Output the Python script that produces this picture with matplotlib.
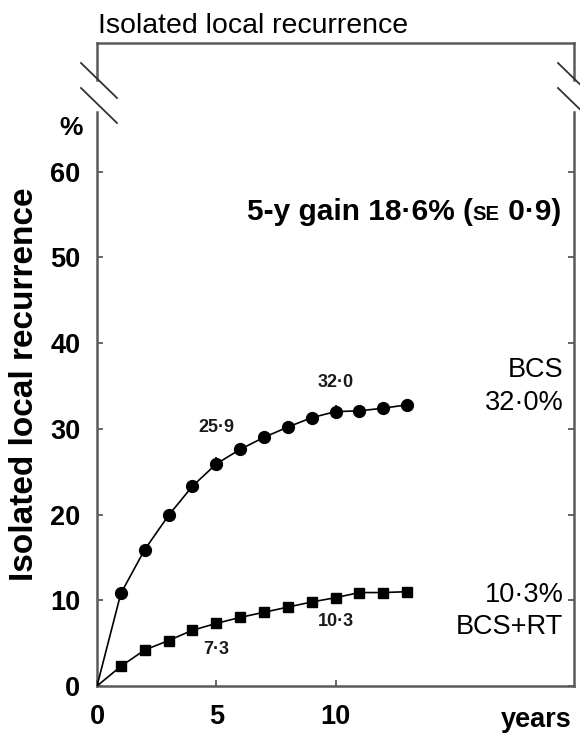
import matplotlib
matplotlib.use("Agg")
import matplotlib.pyplot as plt
from matplotlib.offsetbox import TextArea, HPacker, AnnotationBbox

plt.rcParams['font.family'] = ['Liberation Sans', 'DejaVu Sans']

# ---- data ----
years = [0, 1, 2, 3, 4, 5, 6, 7, 8, 9, 10, 11, 12, 13]
bcs = [0, 10.8, 15.9, 19.9, 23.3, 25.9, 27.6, 29.0, 30.2, 31.3, 32.0, 32.1, 32.4, 32.8]
bcs_rt = [0, 2.3, 4.2, 5.3, 6.5, 7.3, 8.0, 8.6, 9.2, 9.8, 10.3, 10.9, 10.9, 11.0]
err_years = [5, 10]
bcs_err = [0.8, 0.8]
bcs_rt_err = [0.6, 0.6]
bcs_point_labels = ["25·9", "32·0"]
bcs_rt_point_labels = ["7·3", "10·3"]
yticks = [0, 10, 20, 30, 40, 50, 60]
xticks = [0, 5, 10]

W, H = 580, 736
fig = plt.figure(figsize=(W / 100, H / 100), dpi=100)
ax = fig.add_axes([97 / W, (H - 686) / H, 477 / W, 643 / H])

spine_col = '#5a5a5a'
ax.set_xlim(0, 20)
ax.set_ylim(0, 75)

# data lines
ax.plot(years, bcs, color='black', lw=1.2, marker='o', ms=8.5,
        markevery=slice(1, None), zorder=3)
ax.plot(years, bcs_rt, color='black', lw=1.2, marker='s', ms=7.5,
        markevery=slice(1, None), zorder=3)
ax.errorbar(err_years, [bcs[years.index(y)] for y in err_years], yerr=bcs_err,
            fmt='none', ecolor='black', elinewidth=1.2, capsize=0, zorder=4)
ax.errorbar(err_years, [bcs_rt[years.index(y)] for y in err_years], yerr=bcs_rt_err,
            fmt='none', ecolor='black', elinewidth=1.2, capsize=0, zorder=4)

# point labels
lab_fs = 13
for y0, lab, dy in zip(err_years, bcs_point_labels, [4.3, 3.4]):
    ax.text(y0, bcs[years.index(y0)] + dy, lab, ha='center', va='center',
            fontsize=lab_fs, fontweight='bold', color='#1a1a1a')
for y0, lab, dy in zip(err_years, bcs_rt_point_labels, [-3.1, -2.8]):
    ax.text(y0, bcs_rt[years.index(y0)] + dy, lab, ha='center', va='center',
            fontsize=lab_fs, fontweight='bold', color='#1a1a1a')

# right-side labels
rfs = 19.5
ax.text(19.55, 36.9, "BCS", ha='right', va='center', fontsize=rfs)
ax.text(19.55, 33.0, "32·0%", ha='right', va='center', fontsize=rfs)
ax.text(19.55, 10.6, "10·3%", ha='right', va='center', fontsize=rfs)
ax.text(19.55, 6.9, "BCS+RT", ha='right', va='center', fontsize=rfs)

# gain text with small-caps SE
gfs = 21.5
fam = ['Liberation Sans', 'DejaVu Sans']
prop = dict(fontsize=gfs, fontweight='bold', family=fam)
t1 = TextArea("5-y gain 18·6% (", textprops=prop)
t2 = TextArea("SE", textprops=dict(fontsize=gfs * 0.68, fontweight='bold', family=fam))
t3 = TextArea(" 0·9)", textprops=prop)
pack = HPacker(children=[t1, t2, t3], align='baseline', pad=0, sep=0)
ab = AnnotationBbox(pack, (19.45, 55.3), xycoords='data', box_alignment=(1, 0.5),
                    frameon=False, pad=0)
ax.add_artist(ab)

# spines
for s in ['left', 'right', 'top', 'bottom']:
    ax.spines[s].set_color(spine_col)
    ax.spines[s].set_linewidth(1.8)
ax.spines['left'].set_bounds(0, 67.0)
ax.spines['right'].set_bounds(0, 67.0)
ytr = ax.get_yaxis_transform()
for xs in (0, 1):
    ax.plot([xs, xs], [70.7, 75], transform=ytr, color=spine_col, lw=1.8,
            clip_on=False, solid_capstyle='projecting')

# break marks (axes fraction, derived from pixel offsets)
def px2ax(dx, py):
    return dx / 477, (686 - py) / 643

for xs in (0, 1):
    for (y1, y2) in [(63, 98), (88, 123)]:
        xa, ya = px2ax(-16, y1)
        xb, yb = px2ax(20, y2)
        ax.plot([xs + xa, xs + xb], [ya, yb], transform=ax.transAxes,
                color='#333333', lw=1.3, clip_on=False)

# ticks
ax.set_yticks(yticks)
ax.set_xticks(xticks)
ax.set_yticklabels([str(v) for v in yticks], fontsize=19.5, fontweight='bold')
ax.set_xticklabels([str(v) for v in xticks], fontsize=19.5, fontweight='bold')
ax.tick_params(axis='y', direction='in', length=4, width=1.3, color=spine_col,
               right=True, labelright=False, pad=12)
ax.tick_params(axis='x', direction='in', length=4, width=1.3, color=spine_col,
               pad=13)

fig.text(25 / W, 1 - 384 / H, "Isolated local recurrence", rotation=90,
         ha='center', va='center', fontsize=24, fontweight='bold')

fig.text(83 / W, 1 - 128 / H, "%", ha='right', va='center', fontsize=19,
         fontweight='bold')
fig.text(572 / W, 1 - 720 / H, "years", ha='right', va='center', fontsize=19.5,
         fontweight='bold')
fig.text(98 / W, 1 - 33 / H, "Isolated local recurrence", ha='left',
         va='baseline', fontsize=20.5)

fig.savefig("out.png", dpi=100)
